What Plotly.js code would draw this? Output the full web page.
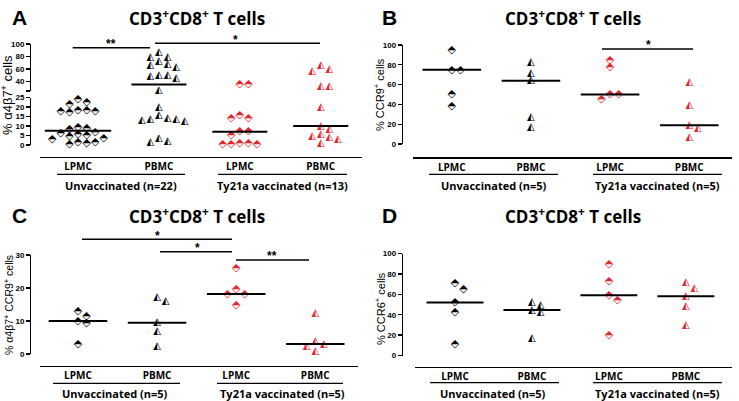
<!DOCTYPE html>
<html>
<head>
<meta charset="utf-8">
<script src="https://cdn.plot.ly/plotly-3.0.1.min.js"></script>
<style>html,body{margin:0;padding:0;background:#fff;}#chart{width:739px;height:401px;}</style>
</head>
<body>
<div id="chart"></div>
<script>
// ---------------- DATA ----------------
const categories = ["LPMC", "PBMC", "LPMC", "PBMC"];
const groupsA = ["Unvaccinated (n=22)", "Ty21a vaccinated (n=13)"];
const groups5 = ["Unvaccinated (n=5)", "Ty21a vaccinated (n=5)"];
const panelTitle = "CD3<sup>+</sup>CD8<sup>+</sup> T cells";

// Panel A: % α4β7+ cells
const A_unvac_LPMC = [24.0, 22.3, 21.4, 18.4, 17.9, 17.0, 17.9, 18.4, 9.5, 9.0, 8.5, 6.5, 6.0, 5.5, 5.0, 4.5, 3.5, 3.0, 1.5, 1.0, 0.5, 1.5];
const A_unvac_PBMC = [86, 78, 79, 72, 65, 62, 67, 49, 45, 48, 50.5, 26, 20, 15.5, 13.5, 12.5, 13, 13.5, 14, 3.5, 1.5, 1.8];
const A_vac_LPMC   = [36.5, 36.5, 15.4, 14, 14, 7.5, 7.0, 5.3, 1.0, 0.6, 0.5, 0.6, 1.0];
const A_vac_PBMC   = [65, 59.6, 55.8, 31.9, 31.9, 19.8, 10, 7.9, 5.3, 4.1, 0.9, 3.0, 4.7];
// Panel B: % CCR9+ cells
const B_unvac_LPMC = [95, 75, 75, 50, 38];
const B_unvac_PBMC = [82, 71, 64, 27, 17];
const B_vac_LPMC   = [85, 78, 50, 45, 50];
const B_vac_PBMC   = [62, 39, 19, 16, 7];
// Panel C: % α4β7+ CCR9+ cells
const C_unvac_LPMC = [13.0, 11.5, 10.0, 9.3, 3.0];
const C_unvac_PBMC = [17, 16, 9.5, 6.7, 2.3];
const C_vac_LPMC   = [26, 19.6, 18.2, 18.0, 14.8];
const C_vac_PBMC   = [12.3, 3.7, 3.0, 2.3, 0.9];
// Panel D: % CCR6+ cells
const D_unvac_LPMC = [71, 65, 52, 42, 11];
const D_unvac_PBMC = [52, 49.5, 44.5, 42.5, 17];
const D_vac_LPMC   = [89, 73, 59, 54, 20];
const D_vac_PBMC   = [72, 66, 58, 48.5, 29];

// ---------------- HELPERS ----------------
const W = 739, H = 401;
const px = x => x / W;
const py = y => 1 - y / H;
const BLACK = "#000000", RED = "#e3262d";
const DIAMOND = "\u2B18", TRIANGLE = "\u25ED";

function median(a) {
  const s = a.slice().sort((p, q) => p - q);
  const n = s.length;
  return n % 2 ? s[(n - 1) / 2] : (s[n / 2 - 1] + s[n / 2]) / 2;
}

// simple beeswarm: offsets (category units) so marks do not overlap
function swarm(vals, toPx, pxPerCat, d) {
  const idx = vals.map((v, i) => i).sort((a, b) => vals[b] - vals[a]);
  const placed = [], off = new Array(vals.length).fill(0);
  const cand = [0];
  for (let s = 1; s < 12; s++) cand.push(s * d, -s * d);
  for (const i of idx) {
    const y = toPx(vals[i]);
    for (const c of cand) {
      if (placed.every(p => Math.hypot(p.x - c, p.y - y) >= d * 0.8)) {
        off[i] = c; placed.push({x: c, y: y}); break;
      }
    }
  }
  return off.map(o => o / pxPerCat);
}

const traces = [];
const shapes = [];
const annotations = [];

function linMap(topPx, botPx, r0, r1) {
  return v => botPx - (v - r0) / (r1 - r0) * (botPx - topPx);
}

// add group of points
function addPoints(vals, catIdx, xa, yaFn, toPx, pxPerCat, glyph, color, hw) {
  const off = swarm(vals, toPx, pxPerCat, 8.6);
  const byAxis = {};
  vals.forEach((v, i) => {
    const ya = yaFn(v);
    if (!byAxis[ya]) byAxis[ya] = {x: [], y: []};
    byAxis[ya].x.push(catIdx + off[i]);
    byAxis[ya].y.push(v);
  });
  for (const ya in byAxis) {
    traces.push({
      type: "scatter", mode: "text", x: byAxis[ya].x, y: byAxis[ya].y,
      xaxis: xa, yaxis: ya, text: byAxis[ya].x.map(() => glyph),
      textposition: "middle center",
      textfont: {family: "DejaVu Sans", size: glyph === DIAMOND ? 11 : 10, color: color},
      cliponaxis: false, hoverinfo: "y", showlegend: false
    });
  }
  const m = median(vals);
  const w = hw || 0.37;
  traces.push({
    type: "scatter", mode: "lines", x: [catIdx - w, catIdx + w], y: [m, m],
    xaxis: xa, yaxis: yaFn(m), line: {color: BLACK, width: 2},
    cliponaxis: false, hoverinfo: "skip", showlegend: false
  });
}

// ---------------- PANEL GEOMETRY ----------------
const tickFont = {family: "Liberation Sans, Arial, sans-serif", size: 8, weight: "bold", color: BLACK};
const catFont = {family: "Open Sans, sans-serif", size: 10, weight: "bold", color: BLACK};

function yAxis(topPx, botPx, range, xPos, tickvals, ticktext) {
  const o = {
    domain: [py(botPx), py(topPx)], range: range, anchor: "free", position: px(xPos),
    showline: true, linecolor: BLACK, linewidth: 1.3, ticks: "outside", ticklen: 4,
    tickwidth: 1.3, tickcolor: BLACK, tickvals: tickvals, tickfont: tickFont,
    showgrid: false, zeroline: false, fixedrange: true
  };
  if (ticktext) o.ticktext = ticktext;
  return o;
}
function xAxis(x0, x1, range, linePx) {
  return {
    domain: [px(x0), px(x1)], range: range, anchor: "free", position: py(linePx),
    showline: true, linecolor: BLACK, linewidth: 1.3, ticks: "",
    tickvals: [0, 1, 2, 3], ticktext: categories, tickfont: catFont,
    showgrid: false, zeroline: false, fixedrange: true
  };
}

const layout = {
  width: W, height: H, margin: {l: 0, r: 0, t: 0, b: 0},
  paper_bgcolor: "#fff", plot_bgcolor: "rgba(0,0,0,0)", showlegend: false,
  // Panel A
  xaxis: xAxis(40, 362, [-0.47, 3.51], 157),
  yaxis: yAxis(97.5, 145, [0, 25], 30, [0, 5, 10, 15, 20, 25]),
  yaxis5: yAxis(44, 91, [25, 100], 30, [25, 40, 60, 80, 100], ["", "40", "60", "80", "100"]),
  // Panel B
  xaxis2: xAxis(413, 732, [-0.49, 3.54], 157.3),
  yaxis2: yAxis(45, 144, [0, 100], 401.7, [0, 20, 40, 60, 80, 100]),
  // Panel C
  xaxis3: xAxis(40, 358, [-0.48, 3.54], 365.7),
  yaxis3: yAxis(255, 354, [0, 30], 30, [0, 10, 20, 30]),
  // Panel D
  xaxis4: xAxis(415, 732, [-0.52, 3.6], 367),
  yaxis4: yAxis(253.5, 355.5, [0, 100], 401.7, [0, 20, 40, 60, 80, 100]),
  shapes: shapes, annotations: annotations
};

// Panel A mapping (broken axis)
const aLow = linMap(97.5, 145, 0, 25), aUp = linMap(44, 91, 25, 100);
const aPx = v => v >= 25 ? aUp(v) : aLow(v);
const aAx = v => v >= 25 ? "y5" : "y";
addPoints(A_unvac_LPMC, 0, "x", aAx, aPx, 81, DIAMOND, BLACK, 0.41);
addPoints(A_unvac_PBMC, 1, "x", aAx, aPx, 81, TRIANGLE, BLACK, 0.34);
addPoints(A_vac_LPMC, 2, "x", aAx, aPx, 81, DIAMOND, RED, 0.34);
addPoints(A_vac_PBMC, 3, "x", aAx, aPx, 81, TRIANGLE, RED, 0.34);

const bPx = linMap(45, 144, 0, 100);
addPoints(B_unvac_LPMC, 0, "x2", () => "y2", bPx, 79, DIAMOND, BLACK);
addPoints(B_unvac_PBMC, 1, "x2", () => "y2", bPx, 79, TRIANGLE, BLACK);
addPoints(B_vac_LPMC, 2, "x2", () => "y2", bPx, 79, DIAMOND, RED);
addPoints(B_vac_PBMC, 3, "x2", () => "y2", bPx, 79, TRIANGLE, RED);

const cPx = linMap(255, 354, 0, 30);
addPoints(C_unvac_LPMC, 0, "x3", () => "y3", cPx, 79, DIAMOND, BLACK);
addPoints(C_unvac_PBMC, 1, "x3", () => "y3", cPx, 79, TRIANGLE, BLACK);
addPoints(C_vac_LPMC, 2, "x3", () => "y3", cPx, 79, DIAMOND, RED);
addPoints(C_vac_PBMC, 3, "x3", () => "y3", cPx, 79, TRIANGLE, RED);

const dPx = linMap(253.5, 355.5, 0, 100);
addPoints(D_unvac_LPMC, 0, "x4", () => "y4", dPx, 77, DIAMOND, BLACK);
addPoints(D_unvac_PBMC, 1, "x4", () => "y4", dPx, 77, TRIANGLE, BLACK);
addPoints(D_vac_LPMC, 2, "x4", () => "y4", dPx, 77, DIAMOND, RED);
addPoints(D_vac_PBMC, 3, "x4", () => "y4", dPx, 77, TRIANGLE, RED);

// ---------------- DECORATIONS ----------------
function hline(x0, x1, y, w) {
  shapes.push({type: "line", xref: "paper", yref: "paper", x0: px(x0), x1: px(x1), y0: py(y), y1: py(y),
    line: {color: BLACK, width: w || 1.3}});
}
function text(t, x, y, font, angle) {
  annotations.push({text: t, xref: "paper", yref: "paper", x: px(x), y: py(y), showarrow: false,
    xanchor: "center", yanchor: "middle", font: font, textangle: angle || 0});
}
const letterFont = {family: "Liberation Sans, Arial, sans-serif", size: 21, weight: "bold", color: BLACK};
const titleFont = {family: "Open Sans, sans-serif", size: 17, weight: "bold", color: BLACK};
const groupFont = {family: "Open Sans, sans-serif", size: 11, weight: "bold", color: BLACK};
const starFont = {family: "Liberation Sans, Arial, sans-serif", size: 12, weight: "bold", color: BLACK};

// letters & titles
text("A", 19, 17, letterFont); text("B", 389, 17, letterFont);
text("C", 19, 215, letterFont); text("D", 389, 215, letterFont);
text(panelTitle, 197, 17, titleFont); text(panelTitle, 573, 17, titleFont);
text(panelTitle, 197, 215, titleFont); text(panelTitle, 573, 215, titleFont);

// y titles
text("% \u03B14\u03B27<sup>+</sup> cells", 7, 95, {family: "Liberation Sans, Arial, sans-serif", size: 13, color: BLACK}, -90);
text("% CCR9<sup>+</sup> cells", 379, 95, {family: "Liberation Sans, Arial, sans-serif", size: 11, color: BLACK}, -90);
text("% \u03B14\u03B27<sup>+</sup> CCR9<sup>+</sup> cells", 8, 305, {family: "Liberation Sans, Arial, sans-serif", size: 10.5, color: BLACK}, -90);
text("% CCR6<sup>+</sup> cells", 380, 308, {family: "Liberation Sans, Arial, sans-serif", size: 11, color: BLACK}, -90);

// group underlines & labels
hline(57, 185, 174.3); hline(218, 347, 174.3);
text(groupsA[0], 121, 185.5, groupFont); text(groupsA[1], 282, 185.5, groupFont);
hline(429, 558, 174.3); hline(593, 722, 174.3);
text(groups5[0], 494, 185.5, groupFont); text(groups5[1], 657, 185.5, groupFont);
hline(53, 180, 383.3); hline(217, 343, 383.3);
text(groups5[0], 115, 393, groupFont); text(groups5[1], 282, 393, groupFont);
hline(430, 559, 382.7); hline(593, 722, 382.7);
text(groups5[0], 493, 393, groupFont); text(groups5[1], 657, 393, groupFont);

// significance bars
hline(72.7, 150, 47.7, 1.6); text("**", 111, 44, starFont);
hline(155, 320, 43.3, 1.6); text("*", 235, 39.5, starFont);
hline(602, 693, 49, 1.6); text("*", 648, 45, starFont);
hline(82, 232, 239.3, 1.6); text("*", 157, 235.5, starFont);
hline(160, 232, 251.7, 1.6); text("*", 197, 248, starFont);
hline(236, 309, 260, 1.6); text("**", 272, 256, starFont);

Plotly.newPlot("chart", traces, layout, {staticPlot: true, displayModeBar: false});
</script>
</body>
</html>
